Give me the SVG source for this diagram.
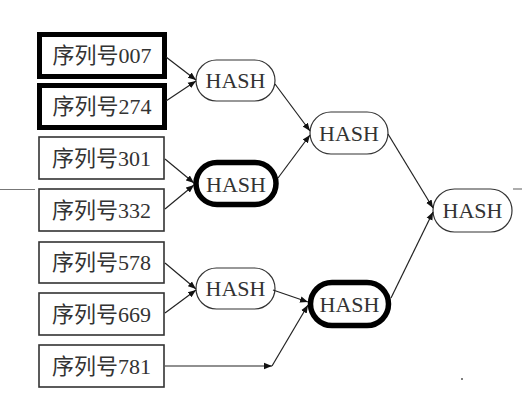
<svg xmlns="http://www.w3.org/2000/svg" width="531" height="419" viewBox="0 0 531 419">
<defs>
<marker id="ah" viewBox="0 0 10 10" refX="10" refY="5" markerWidth="8" markerHeight="8" markerUnits="userSpaceOnUse" orient="auto">
<path d="M0,1 L10,5 L0,9 z" fill="#111"/>
</marker>
<style>
.box{fill:#fff;stroke:#333;stroke-width:1.6}
.tbox{fill:#fff;stroke:#000;stroke-width:5}
.hash{fill:#fff;stroke:#333;stroke-width:1.2}
.thash{fill:#fff;stroke:#000;stroke-width:5.5}
.lbl{font-family:"Liberation Serif","Noto Sans CJK SC",serif;font-size:22px;fill:#333;text-anchor:middle}
.ln{fill:none;stroke:#222;stroke-width:1.2;marker-end:url(#ah)}
.rule{stroke:#777;stroke-width:1.2}
</style>
</defs>
<rect width="531" height="419" fill="#fff"/>
<line class="rule" x1="0" y1="189.5" x2="35" y2="189.5"/>
<line class="rule" x1="513" y1="189" x2="522" y2="189"/>
<circle cx="462" cy="379" r="1" fill="#555"/>
<g id="n007"><rect class="tbox" x="39.5" y="34.5" width="125" height="42"/><text class="lbl" x="102" y="63">序列号007</text></g>
<g id="n274"><rect class="tbox" x="39.5" y="85.5" width="125" height="42"/><text class="lbl" x="102" y="114">序列号274</text></g>
<g id="n301"><rect class="box" x="39" y="137" width="125" height="42"/><text class="lbl" x="101.5" y="166">序列号301</text></g>
<g id="n332"><rect class="box" x="39" y="189" width="125" height="42"/><text class="lbl" x="101.5" y="218">序列号332</text></g>
<g id="n578"><rect class="box" x="39" y="242" width="125" height="41"/><text class="lbl" x="101.5" y="270">序列号578</text></g>
<g id="n669"><rect class="box" x="39" y="293" width="125" height="42"/><text class="lbl" x="101.5" y="322">序列号669</text></g>
<g id="n781"><rect class="box" x="39" y="345" width="125" height="42"/><text class="lbl" x="101.5" y="374">序列号781</text></g>
<g id="h1"><rect class="hash" x="196" y="60" width="79" height="41" rx="20.5"/><text class="lbl" x="235.5" y="88">HASH</text></g>
<g id="h2"><rect class="thash" x="196" y="162.5" width="80" height="42" rx="21"/><text class="lbl" x="236" y="192">HASH</text></g>
<g id="h3"><rect class="hash" x="196" y="268" width="79" height="41" rx="20.5"/><text class="lbl" x="235.5" y="296">HASH</text></g>
<g id="h4"><rect class="hash" x="310" y="112" width="78" height="42" rx="21"/><text class="lbl" x="349" y="141">HASH</text></g>
<g id="h5"><rect class="thash" x="310.5" y="282.5" width="78" height="43" rx="21.5"/><text class="lbl" x="349.5" y="312">HASH</text></g>
<g id="h6"><rect class="hash" x="433" y="189" width="79" height="43" rx="21.5"/><text class="lbl" x="472.5" y="218">HASH</text></g>
<g id="connectors">
<line class="ln" x1="166" y1="57" x2="196" y2="80"/>
<line class="ln" x1="166" y1="101" x2="196" y2="81"/>
<line class="ln" x1="165" y1="159" x2="194" y2="183"/>
<line class="ln" x1="165" y1="209" x2="194" y2="185"/>
<line class="ln" x1="165" y1="263" x2="196" y2="289"/>
<line class="ln" x1="165" y1="313" x2="196" y2="290"/>
<line class="ln" x1="165" y1="366" x2="272" y2="366"/>
<line class="ln" x1="272" y1="366" x2="308" y2="305"/>
<line class="ln" x1="275" y1="84" x2="310" y2="131"/>
<line class="ln" x1="278" y1="178" x2="310" y2="135"/>
<line class="ln" x1="273" y1="290" x2="308" y2="302"/>
<line class="ln" x1="388" y1="134" x2="433" y2="208"/>
<line class="ln" x1="391" y1="298" x2="433" y2="212"/>
</g>
</svg>
